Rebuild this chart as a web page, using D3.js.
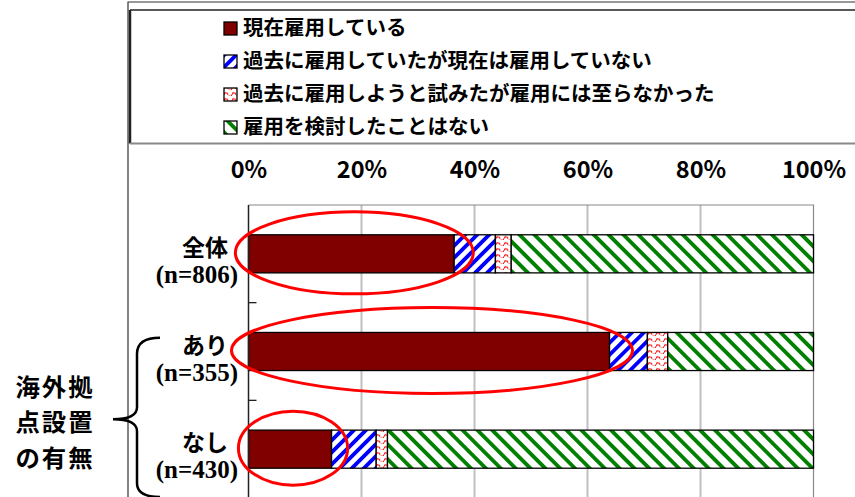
<!DOCTYPE html>
<html><head><meta charset="utf-8">
<script src="https://cdn.jsdelivr.net/npm/d3@7"></script>
<style>html,body{margin:0;padding:0;background:#fff;overflow:hidden}</style>
</head><body>
<svg id="c" width="855" height="497"></svg>
<script>
const categories = ["全体", "あり", "なし"];
const sampleLabels = ["(n=806)", "(n=355)", "(n=430)"];
const seriesNames = [
  "現在雇用している",
  "過去に雇用していたが現在は雇用していない",
  "過去に雇用しようと試みたが雇用には至らなかった",
  "雇用を検討したことはない"
];
const currentlyEmploying = [36.4, 63.9, 14.7];
const pastEmployedNotNow = [7.3, 6.7, 7.9];
const triedButFailed = [2.8, 3.6, 2.0];
const neverConsidered = [53.5, 25.8, 75.4];
const tickValues = [0, 20, 40, 60, 80, 100];
const groupTitle = ["海外拠", "点設置", "の有無"];

const seriesValues = [currentlyEmploying, pastEmployedNotNow, triedButFailed, neverConsidered];
const fills = ["#800000", "url(#pBlue)", "url(#pRed)", "url(#pGreen)"];

const svg = d3.select("#c");
const jp = "'Noto Sans CJK JP','Noto Sans',sans-serif";
const serif = "'Liberation Serif','DejaVu Serif',serif";

// patterns
const defs = svg.append("defs");
function stripes(id, color, period, width, angle) {
  const p = defs.append("pattern").attr("id", id).attr("patternUnits", "userSpaceOnUse")
    .attr("width", period).attr("height", period).attr("patternTransform", `rotate(${angle})`);
  p.append("rect").attr("width", period).attr("height", period).attr("fill", "#fff");
  p.append("rect").attr("x", 0).attr("width", width).attr("height", period).attr("fill", color);
}
stripes("pBlue", "#0000ff", 8.5, 3.8, 45);
stripes("pGreen", "#008000", 10.5, 3.8, -45);
const pr = defs.append("pattern").attr("id", "pRed").attr("patternUnits", "userSpaceOnUse")
  .attr("width", 8).attr("height", 6);
pr.append("rect").attr("width", 8).attr("height", 6).attr("fill", "#fff");
pr.append("path").attr("d", "M0,4.5 Q2,0.5 4,4.5 T8,4.5").attr("fill", "none")
  .attr("stroke", "#ff2020").attr("stroke-width", 1.4).attr("stroke-dasharray", "2.5,0.8");

// outer frame
svg.append("path").attr("d", "M128,497 L128,2 L855,2").attr("fill", "none").attr("stroke", "#333").attr("stroke-width", 1.2);
// legend box
svg.append("line").attr("x1", 130).attr("x2", 855).attr("y1", 10).attr("y2", 10).attr("stroke", "#222").attr("stroke-width", 1.5);
svg.append("line").attr("x1", 130).attr("x2", 130).attr("y1", 10).attr("y2", 143.5).attr("stroke", "#222").attr("stroke-width", 2.5);
svg.append("line").attr("x1", 130).attr("x2", 855).attr("y1", 143.5).attr("y2", 143.5).attr("stroke", "#888").attr("stroke-width", 2);

// legend
const legY = d3.scalePoint().domain(seriesNames).range([28.5, 127.5]);
const leg = svg.append("g");
seriesNames.forEach((n, i) => {
  leg.append("rect").attr("x", 224).attr("y", legY(n) - 6.5).attr("width", 13).attr("height", 13)
    .attr("fill", fills[i]).attr("stroke", "#000").attr("stroke-width", 1.3);
  leg.append("text").attr("x", 243).attr("y", legY(n) - 1).attr("dy", "0.36em")
    .attr("font-family", jp).attr("font-weight", 700).attr("font-size", 20.5).attr("fill", "#000").text(n);
});

// scales
const x = d3.scaleLinear().domain([0, 100]).range([248.5, 813.5]);
const y = d3.scaleBand().domain(categories).range([205, 498]).padding(0);
const barH = y.bandwidth() * 0.39;
const barOff = (y.bandwidth() - barH) / 2;

// gridlines
svg.append("g").selectAll("line").data(tickValues.filter(v => v > 0 && v < 100)).join("line")
  .attr("x1", d => x(d)).attr("x2", d => x(d)).attr("y1", 205).attr("y2", 498)
  .attr("stroke", "#c0c0c0").attr("stroke-width", 2);
// plot border top/right
svg.append("path").attr("d", `M${x(0)},205 L${x(100)},205 L${x(100)},498`).attr("fill", "none")
  .attr("stroke", "#888").attr("stroke-width", 1.2);

// top axis labels
const ax = d3.axisTop(x).tickValues(tickValues).tickFormat(d => d + "%").tickSize(0).tickPadding(0);
const axG = svg.append("g").attr("transform", "translate(0,178)").call(ax);
axG.select(".domain").remove();
axG.selectAll("text").attr("font-family", jp).attr("font-weight", 700).attr("font-size", 23.5)
  .attr("fill", "#000").attr("dy", 0);

// bars
const stacked = categories.map((c, ci) => {
  let acc = 0;
  return seriesValues.map((s, si) => { const r = { c, si, x0: acc, x1: acc + s[ci] }; acc += s[ci]; return r; });
}).flat();
svg.append("g").selectAll("rect").data(stacked).join("rect")
  .attr("x", d => x(d.x0)).attr("width", d => x(d.x1) - x(d.x0))
  .attr("y", d => y(d.c) + barOff).attr("height", barH)
  .attr("fill", d => fills[d.si]).attr("stroke", "#000").attr("stroke-width", 1.3);

// left axis
svg.append("line").attr("x1", x(0)).attr("x2", x(0)).attr("y1", 205).attr("y2", 498).attr("stroke", "#222").attr("stroke-width", 1.5);
svg.append("g").selectAll("line").data(categories.slice(1)).join("line")
  .attr("x1", x(0)).attr("x2", x(0) + 8).attr("y1", d => y(d)).attr("y2", d => y(d))
  .attr("stroke", "#222").attr("stroke-width", 1.3);

// category labels
categories.forEach((c, i) => {
  const cy = y(c) + y.bandwidth() / 2;
  svg.append("text").attr("x", 228).attr("y", cy + 2).attr("text-anchor", "end")
    .attr("font-family", jp).attr("font-weight", 700).attr("font-size", 23).attr("fill", "#000").text(c);
  svg.append("text").attr("x", 238).attr("y", cy + 29).attr("text-anchor", "end")
    .attr("font-family", serif).attr("font-weight", 700).attr("font-size", 25).attr("fill", "#000").text(sampleLabels[i]);
});

// red highlight ellipses around the first segment
const ryList = [41, 43, 37];
svg.append("g").selectAll("ellipse").data(categories).join("ellipse")
  .attr("cx", (c, i) => (x(0) + x(currentlyEmploying[i])) / 2 + 3)
  .attr("cy", c => y(c) + y.bandwidth() / 2 - 1)
  .attr("rx", (c, i) => (x(currentlyEmploying[i]) - x(0)) / 2 * 1.05 + 11)
  .attr("ry", (c, i) => ryList[i])
  .attr("fill", "none").attr("stroke", "#ff0000").attr("stroke-width", 3);

// brace
const bTop = y(categories[1]) + 35, bMid = y(categories[2]) + 19, bBot = 497;
svg.append("path")
  .attr("d", `M160,${bTop} Q137,${bTop} 137,${bTop + 16} L137,${bMid - 12} Q137,${bMid} 113,${bMid} Q137,${bMid} 137,${bMid + 12} L137,${bBot - 14} Q137,${bBot} 160,${bBot}`)
  .attr("fill", "none").attr("stroke", "#000").attr("stroke-width", 2.5);

// group title
groupTitle.forEach((t, i) => {
  svg.append("text").attr("x", 55).attr("y", 387 + i * 35.5).attr("dy", "0.36em").attr("text-anchor", "middle")
    .attr("font-family", jp).attr("font-weight", 700).attr("font-size", 24.4).attr("letter-spacing", 2)
    .attr("fill", "#000").text(t);
});
</script>
</body></html>
